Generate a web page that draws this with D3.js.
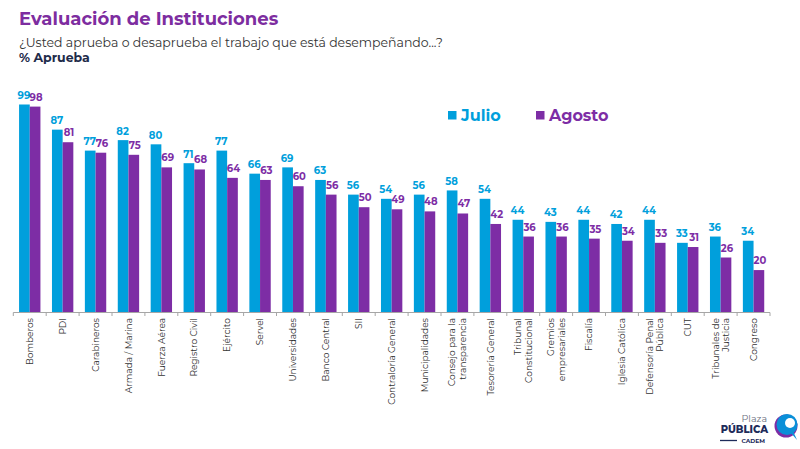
<!DOCTYPE html>
<html><head><meta charset="utf-8">
<script src="https://cdn.jsdelivr.net/npm/d3@7"></script>
<style>body{margin:0;background:#fff}svg{display:block}</style>
</head><body>
<svg id="c" width="800" height="449"></svg>
<script>
const categories = [["Bomberos"],["PDI"],["Carabineros"],["Armada / Marina"],["Fuerza Aérea"],["Registro Civil"],["Ejército"],["Servel"],["Universidades"],["Banco Central"],["SII"],["Contraloría General"],["Municipalidades"],["Consejo para la","transparencia"],["Tesorería General"],["Tribunal","Constitucional"],["Gremios","empresariales"],["Fiscalía"],["Iglesia Católica"],["Defensoría Penal","Pública"],["CUT"],["Tribunales de","Justicia"],["Congreso"]];
const julio  = [99,87,77,82,80,71,77,66,69,63,56,54,56,58,54,44,43,44,42,44,33,36,34];
const agosto = [98,81,76,75,69,68,64,63,60,56,50,49,48,47,42,36,36,35,34,33,31,26,20];
const seriesNames = ["Julio","Agosto"];
const colors = ["#009FDC","#7D2DA5"];

const svg = d3.select("#c");
const font = "Montserrat, 'Open Sans', sans-serif";
const keys = categories.map(c => c.join(" "));
const data = keys.map((k,i)=>({k, vals:[julio[i], agosto[i]]}));

const x0 = d3.scaleBand().domain(keys).range([13.3, 770]).padding(0);
const x1 = d3.scaleBand().domain(seriesNames).range([0, x0.bandwidth()]).paddingInner(0).paddingOuter(0.54);
const y = d3.scaleLinear().domain([0,100]).range([312, 102.4]);

// title
svg.append("text").attr("x",19).attr("y",25).attr("font-family",font).attr("font-weight",700)
  .attr("font-size",18).attr("fill","#7D2DA0").text("Evaluación de Instituciones");
svg.append("text").attr("x",19).attr("y",47).attr("font-family",font)
  .attr("font-size",12.5).attr("fill","#333").text("¿Usted aprueba o desaprueba el trabajo que está desempeñando...?");
svg.append("text").attr("x",19).attr("y",62).attr("font-family",font).attr("font-weight",700)
  .attr("font-size",12.5).attr("fill","#1E2B4A").text("% Aprueba");

// bars
const g = svg.append("g");
const groups = g.selectAll("g.cat").data(data).join("g").attr("class","cat")
  .attr("transform", d=>`translate(${x0(d.k)},0)`);
groups.selectAll("rect").data(d=>d.vals.map((v,i)=>({v,s:seriesNames[i],i}))).join("rect")
  .attr("x", d=>x1(d.s)).attr("width", x1.bandwidth())
  .attr("y", d=>y(d.v)).attr("height", d=>y(0)-y(d.v))
  .attr("fill", d=>colors[d.i]);
groups.selectAll("text.val").data(d=>d.vals.map((v,i)=>({v,s:seriesNames[i],i}))).join("text")
  .attr("class","val")
  .attr("x", d=>x1(d.s)+x1.bandwidth()/2 + (d.i===1?1:-0.5))
  .attr("y", d=>y(d.v) - (d.i===0?5.5:6))
  .attr("text-anchor","middle").attr("font-family",font).attr("font-weight",700)
  .attr("font-size",10).attr("fill", d=>colors[d.i]).text(d=>d.v);

// axis
const ax = svg.append("g");
ax.append("line").attr("x1",13.3).attr("x2",770).attr("y1",312.5).attr("y2",312.5).attr("stroke","#a6a6a6").attr("stroke-width",1);
const tickPos = keys.map(k=>x0(k)).concat([770]);
ax.selectAll("line.t").data(tickPos).join("line").attr("class","t")
  .attr("x1",d=>d).attr("x2",d=>d).attr("y1",312.5).attr("y2",316).attr("stroke","#a6a6a6");

// x labels
categories.forEach((lines,i)=>{
  const cx = x0(keys[i]) + x0.bandwidth()/2;
  const n = lines.length;
  const lh = 10.5;
  lines.forEach((ln,j)=>{
    const off = (j - (n-1)/2)*lh + 3.2;
    svg.append("text")
      .attr("transform",`translate(${cx+off},318) rotate(-90)`)
      .attr("text-anchor","end").attr("font-family",font)
      .attr("font-size",9).attr("fill","#333").text(ln);
  });
});

// legend
const leg = svg.append("g");
[[448,461],[536,549]].forEach((p,i)=>{
  leg.append("rect").attr("x",p[0]).attr("y",111).attr("width",8.5).attr("height",8.5).attr("fill",colors[i]);
  leg.append("text").attr("x",p[1]).attr("y",121).attr("font-family",font).attr("font-weight",700)
    .attr("font-size",16).attr("fill",colors[i]).text(seriesNames[i]);
});

// logo
const lg = svg.append("g");
lg.append("text").attr("x",767).attr("y",422).attr("text-anchor","end").attr("font-family",font)
  .attr("font-size",9.5).attr("fill","#6b6f80").text("Plaza");
lg.append("text").attr("x",768).attr("y",433).attr("text-anchor","end").attr("font-family",font).attr("font-weight",800)
  .attr("font-size",10).attr("fill","#1E2B5A").text("PÚBLICA");
lg.append("line").attr("x1",720).attr("x2",737).attr("y1",440.5).attr("y2",440.5).attr("stroke","#1E2B5A").attr("stroke-width",1.3);
lg.append("text").attr("x",765).attr("y",443).attr("text-anchor","end").attr("font-family",font).attr("font-weight",700)
  .attr("font-size",6).attr("fill","#1E2B5A").text("CADEM");
lg.append("circle").attr("cx",786).attr("cy",426).attr("r",11.5).attr("fill","#7D2DA5");
lg.append("circle").attr("cx",787).attr("cy",424.5).attr("r",10.5).attr("fill","#0A8FD8");
lg.append("circle").attr("cx",790).attr("cy",423).attr("r",5).attr("fill","#fff");
lg.append("path").attr("d","M791,433 L797,440 L793,431 Z").attr("fill","#0A8FD8");
</script>
</body></html>
